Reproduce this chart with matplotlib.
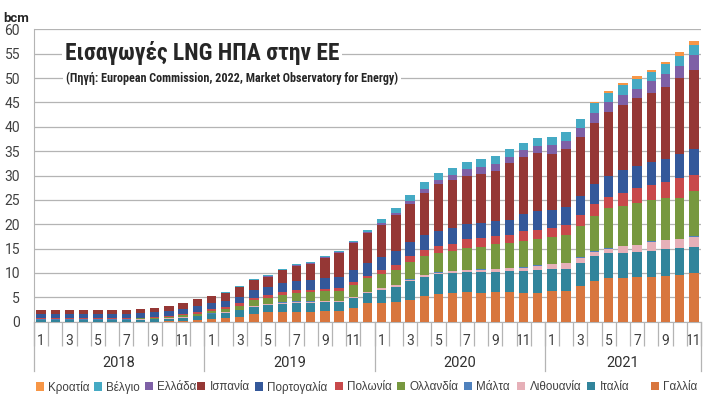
import matplotlib
matplotlib.use("Agg")
import matplotlib.pyplot as plt
from matplotlib import font_manager as fm
import numpy as np

# Months: Jan 2018 .. Nov 2021 (47 bars)
years = ["2018", "2019", "2020", "2021"]
months_per_year = [12, 12, 12, 11]

series_names = ["Γαλλία", "Ιταλία", "Λιθουανία", "Μάλτα", "Ολλανδία", "Πολωνία",
                "Πορτογαλία", "Ισπανία", "Ελλάδα", "Βέλγιο", "Κροατία"]
colors = ["#D8763E", "#31849B", "#E6B0B8", "#4F81BD", "#77983F", "#C8494B",
          "#34589A", "#953735", "#7E60A6", "#45AAC4", "#F79646"]

france = [0, 0, 0, 0, 0, 0, 0, 0, 0, 0.05, 0.15, 0.3,
          0.5, 0.7, 1.0, 1.6, 1.9, 2.0, 2.0, 2.0, 2.1, 2.1, 2.9, 3.8,
          3.9, 4.1, 4.5, 5.3, 5.7, 5.8, 6.0, 5.9, 6.0, 6.0, 5.9, 5.9,
          6.2, 6.4, 7.3, 8.4, 8.9, 8.9, 9.1, 9.25, 9.4, 9.6, 9.9]
italy = [0.4, 0.4, 0.4, 0.4, 0.4, 0.4, 0.4, 0.45, 0.5, 0.6, 0.7, 0.8,
         1.0, 1.1, 1.3, 1.4, 1.5, 1.7, 1.9, 1.9, 1.95, 1.95, 1.95, 2.0,
         2.7, 3.1, 3.8, 3.9, 4.0, 4.2, 4.2, 4.4, 4.3, 4.45, 4.5, 4.7,
         4.6, 4.5, 4.7, 5.0, 5.1, 5.1, 5.15, 5.35, 5.5, 5.5, 5.5]
lithuania = [0.05, 0.05, 0.05, 0.05, 0.05, 0.05, 0.05, 0.05, 0.05, 0.05, 0.1, 0.1,
             0.15, 0.15, 0.15, 0.2, 0.2, 0.2, 0.2, 0.2, 0.2, 0.2, 0.25, 0.25,
             0.3, 0.35, 0.35, 0.35, 0.35, 0.35, 0.35, 0.4, 0.5, 0.5, 0.7, 0.9,
             1.0, 1.2, 1.15, 1.0, 1.0, 1.5, 1.5, 1.85, 1.9, 1.85, 2.05]
malta = [0.05, 0.05, 0.05, 0.05, 0.05, 0.05, 0.05, 0.05, 0.05, 0.05, 0.05, 0.05,
         0.05, 0.05, 0.05, 0.05, 0.05, 0.05, 0.05, 0.05, 0.05, 0.05, 0.05, 0.05,
         0.05, 0.05, 0.05, 0.05, 0.05, 0.05, 0.05, 0.05, 0.05, 0.05, 0.05, 0.05,
         0.05, 0.05, 0.05, 0.05, 0.05, 0.05, 0.05, 0.05, 0.05, 0.05, 0.05]
netherlands = [0.15, 0.15, 0.15, 0.15, 0.15, 0.15, 0.15, 0.15, 0.2, 0.25, 0.3, 0.4,
               0.5, 0.6, 0.8, 1.2, 1.3, 1.6, 1.8, 1.9, 2.0, 2.1, 2.4, 2.8,
               2.8, 3.0, 3.6, 3.9, 4.0, 4.05, 4.45, 4.65, 5.0, 5.1, 5.5, 5.4,
               5.5, 5.6, 6.4, 7.2, 8.2, 8.2, 8.55, 8.4, 8.6, 8.4, 9.25]
poland = [0.1, 0.1, 0.1, 0.1, 0.1, 0.1, 0.1, 0.1, 0.15, 0.2, 0.25, 0.3,
          0.35, 0.4, 0.45, 0.45, 0.45, 0.5, 0.5, 0.5, 0.5, 0.55, 0.55, 0.55,
          0.8, 1.0, 1.1, 1.2, 1.4, 1.6, 1.9, 1.85, 1.7, 1.7, 2.0, 1.8,
          1.8, 2.1, 2.4, 2.6, 2.4, 2.7, 3.1, 3.2, 3.2, 4.1, 3.4]
portugal = [0.85, 0.85, 0.85, 0.85, 0.85, 0.85, 0.85, 0.9, 0.95, 1.0, 1.1, 1.2,
            1.2, 1.3, 1.4, 1.6, 1.7, 1.9, 2.0, 2.0, 2.2, 2.3, 2.5, 2.7,
            2.7, 3.0, 2.9, 3.1, 3.1, 3.1, 3.1, 3.0, 3.1, 3.1, 3.4, 3.9,
            3.8, 3.7, 3.8, 4.1, 4.2, 4.7, 4.45, 4.6, 4.7, 5.0, 5.3]
spain = [0.8, 0.8, 0.8, 0.9, 0.9, 0.9, 0.9, 0.9, 1.0, 1.1, 1.25, 1.45,
         1.45, 1.55, 1.95, 2.05, 2.15, 2.6, 3.0, 3.35, 4.1, 4.9, 5.5, 6.05,
         6.55, 7.2, 7.8, 8.6, 9.6, 9.9, 9.9, 10.1, 10.3, 11.6, 11.8, 12.0,
         11.5, 11.8, 12.2, 12.5, 13.2, 13.4, 14.0, 14.25, 14.9, 15.5, 16.3]
greece = [0, 0, 0, 0, 0, 0, 0, 0, 0, 0, 0, 0,
          0.05, 0.05, 0.1, 0.1, 0.1, 0.15, 0.15, 0.2, 0.2, 0.2, 0.25, 0.3,
          0.5, 0.5, 0.7, 0.8, 0.9, 1.05, 1.3, 1.4, 1.4, 1.3, 1.3, 1.4,
          1.8, 1.8, 1.8, 2.0, 2.0, 1.9, 1.85, 2.4, 2.5, 2.5, 2.9]
belgium = [0, 0, 0, 0, 0, 0, 0, 0, 0, 0, 0, 0,
           0.05, 0.1, 0.1, 0.15, 0.15, 0.2, 0.2, 0.2, 0.2, 0.25, 0.25, 0.3,
           0.7, 1.1, 1.2, 1.4, 1.5, 1.5, 1.5, 1.6, 1.6, 1.6, 1.5, 1.6,
           1.7, 1.8, 1.85, 2.05, 1.85, 2.2, 2.1, 1.85, 2.05, 2.05, 2.05]
croatia = [0, 0, 0, 0, 0, 0, 0, 0, 0, 0, 0, 0,
           0, 0, 0, 0, 0, 0, 0, 0, 0, 0, 0, 0,
           0, 0, 0, 0, 0, 0, 0, 0, 0, 0, 0, 0,
           0, 0, 0, 0.1, 0.4, 0.35, 0.5, 0.55, 0.55, 0.9, 0.9]

data = [france, italy, lithuania, malta, netherlands, poland,
        portugal, spain, greece, belgium, croatia]

# pick a condensed bold font for the title if one is installed
title_fp = None
cands = []
for f in fm.fontManager.ttflist:
    nm = f.name.lower()
    fn = f.fname.lower()
    is_narrow = ('narrow' in nm or 'condensed' in nm or 'narrow' in fn or 'condensed' in fn
                 or str(f.stretch).lower() in ('condensed', 'semi-condensed', 'extra-condensed'))
    w = f.weight
    is_bold = (w == 'bold' or (isinstance(w, int) and w >= 600) or 'bold' in fn)
    if is_narrow and is_bold and 'oblique' not in fn and 'italic' not in fn:
        score = 0
        if 'liberation' in nm:
            score = 3
        elif 'roboto' in nm:
            score = 2
        elif 'dejavu' in nm:
            score = 1
        cands.append((score, f.fname))
if cands:
    cands.sort(reverse=True)
    title_fp = cands[0][1]

plt.rcParams['font.family'] = ['Roboto', 'DejaVu Sans']
W, H = 710, 399
fig = plt.figure(figsize=(W / 100, H / 100), dpi=100)
y0_px, y60_px = 321.7, 29.4
xl_px, xr_px = 34, 701
ax = fig.add_axes([xl_px / W, (H - y0_px) / H, (xr_px - xl_px) / W, (y0_px - y60_px) / H])

n = len(france)
x = np.arange(n)
bottom = np.zeros(n)
handles = []
for name, vals, col in zip(series_names, data, colors):
    v = np.array(vals, dtype=float)
    b = ax.bar(x, v, width=0.66, bottom=bottom, color=col, label=name, zorder=3, linewidth=0)
    handles.append(b)
    bottom += v

ax.set_xlim(-0.5, n - 0.5)
ax.set_ylim(0, 60)
ax.set_yticks(np.arange(0, 61, 5))
ax.yaxis.grid(True, color="#B4B4B4", linewidth=0.9, zorder=0)
ax.set_axisbelow(True)
ax.tick_params(axis='y', length=0, pad=10, labelsize=10, labelcolor="#404040")
for sp in ['top', 'right']:
    ax.spines[sp].set_visible(False)
ax.spines['bottom'].set_color("#B4B4B4")
ax.spines['left'].set_color("#B4B4B4")

# month labels
month_numbers = []
for cnt in months_per_year:
    month_numbers += list(range(1, cnt + 1))
label_pos = [i for i, m in enumerate(month_numbers) if m % 2 == 1]
ax.set_xticks(label_pos)
ax.set_xticklabels([str(month_numbers[i]) for i in label_pos])
ax.tick_params(axis='x', which='major', length=0, pad=9, labelsize=10, labelcolor="#404040")
ax.set_xticks(np.arange(-0.5, n, 1.0), minor=True)
ax.tick_params(axis='x', which='minor', length=17, width=0.9, color="#B4B4B4")

# year separators and labels
tr = ax.get_xaxis_transform()
start = 0
bounds = [-0.5]
for yr, cnt in zip(years, months_per_year):
    center = start + (cnt - 1) / 2
    ax.text(center, -0.141, yr, transform=tr, ha='center', va='center',
            fontsize=10.5, color="#303030")
    start += cnt
    bounds.append(start - 0.5)
for bnd in bounds:
    ax.plot([bnd, bnd], [0, -0.168], transform=tr, color="#B4B4B4",
            linewidth=0.9, clip_on=False)

# title
if title_fp:
    tkw = dict(fontproperties=fm.FontProperties(fname=title_fp, size=16.9))
    skw = dict(fontproperties=fm.FontProperties(fname=title_fp, size=8.75))
else:
    tkw = dict(family=['Roboto', 'DejaVu Sans'], fontsize=15, fontweight='bold')
    skw = dict(family=['Roboto', 'DejaVu Sans'], fontsize=7.6, fontweight='bold')
fig.text(65 / W, 1 - 53 / H, "Εισαγωγές LNG ΗΠΑ στην ΕΕ", color="#262626",
         va='center', ha='left', bbox=dict(facecolor='white', edgecolor='none', pad=2), **tkw)
fig.text(66 / W, 1 - 78.5 / H, "(Πηγή: European Commission, 2022, Market Observatory for Energy)",
         color="#262626", va='center', ha='left',
         bbox=dict(facecolor='white', edgecolor='none', pad=2), **skw)
fig.text(3 / W, 1 - 18 / H, "bcm", fontsize=9.5, fontweight='bold', color="#262626",
         va='center', ha='left')

# legend: one entry per country, placed like the reference (Κροατία first)
legend_x_px = [36, 94, 145, 197, 255, 335, 397, 464, 517, 587, 651]
leg_prop = fm.FontProperties(family=['Liberation Sans', 'DejaVu Sans'], size=8.4)
for h, lab, xp in zip(handles[::-1], series_names[::-1], legend_x_px):
    fig.legend([h], [lab], loc='center left', bbox_to_anchor=(xp / W, 1 - 387 / H),
               frameon=False, borderpad=0, borderaxespad=0,
               handlelength=0.72, handleheight=0.72, handletextpad=0.35,
               prop=leg_prop, labelcolor="#404040")

fig.savefig("out.png", dpi=100)
